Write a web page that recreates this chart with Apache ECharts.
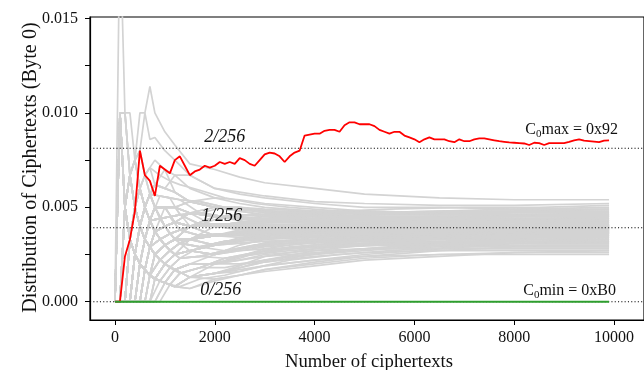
<!DOCTYPE html>
<html>
<head>
<meta charset="utf-8">
<style>
  html, body { margin: 0; padding: 0; background: #fff; }
  #main { width: 644px; height: 370px; }
</style>
<script src="https://cdn.jsdelivr.net/npm/echarts@6/dist/echarts.min.js"></script>
</head>
<body>
<div id="main"></div>
<script>
const FONT = "'Liberation Serif', 'Times New Roman', serif";

// sample points (number of ciphertexts) for the first group of grey byte values
const grayN = [0, 100, 200, 300, 400, 500, 600, 700, 800, 1000, 1200, 1500, 2000, 2500, 3000, 4000, 5000, 6500, 8000, 9900];

// one row per byte value, in units of 1e-4
const grayLines = [
  [0, 200, 100, 67, 75, 60, 50, 57, 50, 50, 42, 40, 40, 42, 41, 40, 41, 40, 40, 40],
  [0, 100, 100, 100, 75, 80, 67, 57, 62, 60, 58, 53, 55, 54, 52, 50, 48, 47, 46, 46],
  [0, 100, 50, 67, 75, 100, 100, 114, 100, 90, 83, 73, 70, 66, 63, 60, 57, 55, 54, 54],
  [0, 100, 100, 67, 75, 80, 100, 86, 87, 80, 75, 67, 60, 58, 56, 53, 52, 51, 51, 52],
  [0, 0, 50, 67, 75, 80, 67, 71, 62, 70, 67, 67, 60, 57, 55, 52, 50, 50, 49, 49],
  [0, 100, 50, 33, 50, 60, 67, 71, 75, 70, 58, 53, 50, 50, 48, 48, 47, 47, 48, 48],
  [0, 0, 0, 33, 50, 60, 50, 57, 62, 60, 67, 60, 55, 52, 50, 48, 46, 46, 47, 47],
  [0, 0, 50, 33, 25, 40, 50, 43, 50, 50, 50, 53, 50, 50, 47, 45, 45, 44, 45, 46],
  [0, 100, 50, 33, 25, 20, 33, 43, 37, 40, 42, 47, 45, 46, 45, 44, 44, 45, 45, 45],
  [0, 0, 0, 0, 25, 40, 33, 43, 50, 40, 42, 40, 45, 44, 44, 43, 43, 44, 44, 44],
  [0, 0, 50, 67, 50, 40, 33, 43, 37, 50, 42, 40, 40, 42, 43, 43, 42, 43, 43, 43],
  [0, 0, 0, 33, 25, 20, 33, 29, 37, 40, 42, 40, 40, 40, 41, 41, 41, 42, 42, 42],
  [0, 0, 0, 0, 0, 20, 33, 43, 37, 30, 33, 40, 35, 37, 38, 40, 40, 41, 41, 41],
  [0, 100, 50, 33, 25, 40, 33, 29, 25, 30, 33, 33, 35, 37, 38, 39, 40, 40, 40, 40],
  [0, 0, 50, 33, 50, 40, 33, 29, 37, 30, 33, 33, 35, 36, 37, 38, 39, 39, 40, 40],
  [0, 0, 0, 0, 25, 20, 17, 29, 25, 30, 33, 33, 30, 34, 36, 37, 38, 39, 40, 40],
  [0, 0, 0, 33, 25, 40, 33, 29, 37, 40, 33, 33, 30, 32, 34, 36, 37, 38, 39, 39],
  [0, 0, 0, 0, 0, 0, 17, 14, 25, 30, 33, 33, 30, 32, 35, 37, 38, 39, 39, 39],
  [0, 100, 50, 33, 25, 20, 17, 14, 25, 20, 25, 27, 30, 33, 35, 36, 37, 38, 39, 39],
  [0, 0, 50, 33, 25, 20, 17, 29, 25, 30, 25, 27, 25, 30, 33, 35, 37, 38, 38, 38],
  [0, 0, 0, 0, 0, 20, 17, 14, 12, 20, 25, 27, 25, 28, 31, 34, 36, 37, 38, 38],
  [0, 0, 0, 0, 0, 0, 0, 0, 12, 10, 17, 20, 20, 24, 28, 32, 34, 36, 37, 37],
  [0, 0, 0, 0, 25, 20, 17, 14, 12, 10, 17, 20, 20, 23, 27, 30, 33, 35, 37, 37],
  [0, 0, 0, 0, 0, 0, 0, 0, 0, 10, 8, 13, 15, 19, 24, 28, 31, 33, 35, 35],
  [0, 0, 0, 33, 25, 20, 17, 14, 12, 20, 17, 13, 15, 18, 22, 27, 30, 32, 34, 34],
  [0, 0, 0, 0, 0, 0, 0, 14, 12, 10, 8, 13, 15, 18, 21, 25, 28, 31, 33, 33],
  [0, 0, 0, 0, 25, 20, 17, 14, 12, 20, 17, 20, 20, 20, 22, 25, 27, 30, 32, 32],
  [0, 0, 0, 0, 0, 0, 17, 14, 12, 10, 17, 13, 15, 16, 19, 22, 25, 28, 31, 31],
  [0, 0, 0, 0, 0, 20, 17, 14, 12, 10, 8, 13, 12, 14, 17, 21, 24, 27, 29, 29],
  [0, 0, 0, 0, 0, 0, 0, 0, 0, 10, 8, 7, 12, 14, 16, 19, 22, 24, 26, 27],
  [0, 0, 0, 0, 0, 0, 0, 0, 12, 10, 8, 7, 11, 14, 17, 20, 23, 25, 25, 25],
  [0, 0, 50, 33, 50, 60, 50, 57, 50, 50, 50, 47, 45, 44, 43, 42, 42, 41, 42, 42],
  [0, 0, 0, 33, 50, 40, 50, 43, 37, 40, 42, 40, 40, 40, 40, 39, 39, 39, 40, 40],
  [0, 100, 50, 67, 50, 40, 50, 43, 50, 40, 42, 40, 40, 39, 38, 38, 38, 38, 38, 38],
  [0, 0, 0, 0, 25, 20, 33, 29, 37, 40, 33, 33, 35, 37, 38, 38, 37, 37, 37, 37],
  [0, 0, 50, 33, 25, 40, 33, 43, 37, 30, 33, 33, 35, 35, 36, 37, 37, 36, 36, 36],
  [0, 0, 0, 33, 25, 20, 33, 29, 25, 30, 25, 27, 30, 32, 34, 35, 35, 35, 35, 35],
  [0, 0, 0, 0, 0, 20, 17, 29, 25, 20, 25, 27, 25, 28, 31, 33, 34, 34, 34, 34],
  [0, 0, 50, 33, 25, 20, 33, 29, 25, 20, 25, 27, 25, 27, 29, 31, 32, 33, 33, 33],
  [0, 0, 0, 0, 0, 0, 17, 14, 12, 20, 17, 20, 20, 24, 27, 29, 30, 31, 32, 32],
  [0, 0, 0, 33, 50, 40, 33, 43, 50, 50, 42, 47, 45, 45, 44, 42, 41, 40, 39, 39],
  [0, 0, 50, 67, 50, 60, 50, 43, 50, 50, 50, 47, 40, 38, 40, 41, 41, 41, 41, 41],
  [0, 0, 0, 0, 25, 40, 50, 57, 50, 50, 50, 40, 40, 41, 42, 43, 43, 43, 43, 43],
  [0, 100, 50, 33, 50, 40, 33, 43, 37, 30, 25, 27, 30, 33, 36, 37, 38, 38, 38, 38],
  [0, 0, 0, 0, 0, 20, 33, 29, 37, 30, 25, 33, 35, 38, 39, 40, 41, 42, 43, 44],
  [0, 100, 50, 33, 25, 20, 33, 43, 50, 40, 33, 33, 40, 42, 44, 46, 47, 48, 49, 50],
  [0, 0, 50, 67, 75, 60, 50, 43, 37, 40, 42, 47, 50, 49, 47, 46, 45, 44, 43, 44],
  [0, 0, 0, 33, 25, 40, 50, 57, 62, 60, 58, 53, 50, 48, 46, 44, 43, 42, 41, 41],
  [0, 100, 100, 67, 50, 40, 33, 29, 25, 30, 33, 40, 40, 39, 38, 37, 36, 36, 37, 37],
  [0, 0, 0, 0, 25, 40, 33, 29, 25, 20, 25, 33, 35, 36, 38, 40, 41, 42, 42, 43],
  [0, 0, 50, 33, 25, 20, 17, 14, 25, 30, 33, 40, 45, 44, 43, 42, 40, 39, 38, 38],
  [0, 0, 0, 0, 0, 0, 17, 29, 37, 40, 42, 40, 35, 36, 37, 39, 40, 40, 41, 41],
  [0, 0, 0, 33, 50, 60, 67, 57, 50, 50, 50, 47, 45, 43, 41, 40, 40, 39, 39, 39],
  [0, 100, 50, 33, 25, 40, 50, 57, 50, 50, 50, 47, 45, 44, 45, 45, 46, 46, 46, 47],
  [0, 0, 0, 0, 25, 20, 17, 29, 25, 30, 33, 27, 30, 33, 34, 35, 36, 36, 36, 37],
  [0, 0, 50, 33, 25, 20, 17, 14, 12, 20, 25, 27, 30, 31, 32, 33, 34, 35, 35, 36],
  [0, 0, 0, 0, 0, 20, 17, 14, 25, 30, 33, 33, 35, 36, 36, 36, 36, 37, 36, 36],
  [0, 0, 0, 33, 50, 40, 33, 29, 25, 30, 25, 27, 25, 28, 30, 32, 33, 33, 34, 35],
  [0, 0, 50, 67, 50, 40, 50, 43, 37, 40, 42, 40, 40, 40, 40, 40, 40, 40, 40, 40],
  [0, 0, 0, 0, 25, 40, 50, 43, 50, 50, 42, 40, 40, 40, 39, 38, 38, 38, 39, 39],
  [0, 100, 50, 33, 50, 40, 50, 43, 37, 40, 42, 40, 40, 41, 42, 42, 41, 40, 40, 40],
  [0, 0, 0, 0, 0, 0, 0, 14, 25, 30, 33, 33, 35, 37, 39, 40, 40, 39, 39, 39],
  [0, 0, 50, 33, 25, 40, 33, 43, 50, 40, 42, 40, 40, 39, 38, 39, 39, 39, 38, 38],
  [0, 0, 0, 33, 25, 20, 33, 43, 37, 40, 42, 40, 35, 37, 38, 38, 38, 38, 37, 37],
  [0, 0, 0, 0, 25, 20, 33, 29, 25, 30, 33, 33, 35, 36, 37, 37, 36, 36, 36, 36],
  [0, 100, 50, 33, 25, 20, 17, 29, 25, 30, 33, 33, 35, 34, 34, 34, 35, 35, 35, 35],
  [0, 0, 0, 0, 0, 20, 17, 14, 12, 20, 25, 27, 30, 31, 32, 33, 34, 34, 34, 34],
  [0, 0, 50, 33, 50, 40, 50, 57, 50, 50, 50, 47, 45, 45, 44, 44, 44, 43, 43, 43],
  [0, 0, 0, 33, 25, 40, 50, 43, 50, 50, 50, 53, 50, 48, 46, 45, 44, 44, 44, 44],
  [0, 0, 0, 0, 0, 0, 17, 29, 25, 30, 33, 40, 40, 42, 43, 44, 45, 45, 45, 45],
  [0, 100, 50, 67, 50, 60, 50, 57, 62, 60, 58, 53, 50, 49, 48, 47, 47, 46, 46, 46],
  [0, 0, 0, 0, 25, 40, 33, 29, 37, 40, 42, 47, 50, 50, 49, 48, 48, 47, 47, 47],
  [0, 0, 50, 33, 25, 20, 33, 29, 37, 30, 33, 40, 40, 42, 44, 46, 47, 48, 48, 48],
  [0, 0, 0, 0, 0, 20, 17, 29, 25, 30, 33, 33, 35, 37, 39, 41, 42, 43, 43, 42],
  [0, 0, 0, 33, 25, 20, 17, 29, 25, 20, 25, 27, 30, 32, 33, 34, 35, 35, 35, 34],
  [0, 0, 0, 0, 0, 0, 0, 14, 12, 10, 17, 20, 25, 28, 30, 32, 32, 32, 32, 32],
  [0, 0, 0, 0, 25, 20, 17, 14, 12, 10, 8, 13, 20, 24, 27, 30, 31, 31, 31, 31],
  [0, 0, 0, 0, 0, 0, 17, 14, 12, 20, 25, 27, 25, 27, 28, 29, 30, 30, 30, 30],
  [0, 0, 0, 0, 0, 0, 0, 0, 12, 20, 17, 20, 20, 22, 25, 27, 28, 29, 29, 29],
  [0, 0, 50, 33, 25, 20, 17, 14, 12, 10, 17, 20, 20, 22, 24, 26, 28, 28, 28, 28],
  [0, 0, 0, 0, 0, 20, 17, 14, 12, 10, 8, 13, 15, 18, 21, 24, 26, 27, 27, 27],
  [0, 0, 0, 0, 0, 0, 0, 14, 12, 10, 17, 13, 15, 17, 19, 22, 24, 25, 26, 26],
  [0, 0, 0, 33, 25, 20, 17, 29, 37, 30, 33, 33, 35, 37, 37, 37, 38, 38, 38, 38],
  [0, 0, 50, 33, 50, 40, 33, 29, 25, 30, 33, 33, 35, 35, 35, 36, 36, 37, 37, 37],
  [0, 0, 0, 0, 0, 20, 33, 29, 37, 40, 42, 40, 40, 40, 39, 39, 38, 37, 37, 37],
  [0, 0, 0, 0, 25, 20, 33, 43, 37, 40, 33, 33, 35, 36, 37, 37, 37, 37, 36, 36],
  [0, 100, 50, 33, 25, 20, 17, 14, 12, 20, 25, 27, 30, 33, 35, 37, 39, 40, 41, 42],
  [0, 0, 0, 33, 50, 60, 50, 43, 50, 40, 42, 40, 40, 41, 41, 40, 39, 38, 37, 36],
  [0, 0, 0, 0, 0, 0, 17, 14, 25, 30, 33, 40, 40, 39, 39, 40, 40, 40, 41, 41],
  [0, 0, 0, 0, 25, 40, 50, 43, 37, 40, 42, 40, 45, 46, 46, 45, 44, 43, 42, 42],
];

// second group of grey byte values, read at a different set of sample points
const grayN2 = [0, 100, 200, 300, 400, 500, 600, 700, 900, 1100, 1300, 1700, 2200, 2800, 3500, 4500, 5500, 7000, 8500, 9900];

const grayLines2 = [
  [0, 100, 50, 67, 50, 60, 50, 57, 56, 55, 54, 47, 45, 43, 42, 41, 40, 40, 39, 39],
  [0, 0, 50, 33, 50, 40, 33, 43, 44, 45, 38, 41, 41, 41, 40, 40, 41, 41, 41, 40],
  [0, 0, 0, 33, 25, 20, 33, 29, 22, 27, 31, 29, 32, 34, 36, 37, 38, 39, 39, 40],
  [0, 0, 0, 0, 0, 20, 17, 14, 11, 18, 23, 24, 27, 30, 32, 34, 36, 37, 38, 38],
  [0, 100, 50, 33, 25, 20, 17, 29, 33, 36, 38, 41, 41, 40, 40, 41, 42, 43, 44, 44],
  [0, 0, 50, 67, 75, 60, 67, 71, 67, 64, 62, 59, 55, 52, 50, 48, 47, 46, 46, 45],
  [0, 0, 0, 33, 50, 60, 50, 43, 44, 36, 38, 35, 36, 37, 37, 37, 36, 36, 37, 37],
  [0, 0, 0, 0, 25, 20, 17, 29, 33, 27, 23, 29, 32, 33, 34, 35, 35, 36, 36, 36],
  [0, 0, 0, 0, 0, 0, 0, 0, 11, 9, 15, 18, 23, 26, 28, 30, 31, 32, 33, 34],
  [0, 0, 50, 33, 25, 40, 50, 57, 44, 45, 46, 47, 45, 46, 46, 47, 47, 48, 48, 49],
  [0, 0, 0, 33, 25, 20, 17, 14, 22, 27, 31, 35, 36, 38, 39, 40, 40, 40, 41, 41],
  [0, 100, 100, 67, 50, 40, 50, 43, 44, 45, 46, 41, 41, 42, 43, 43, 43, 43, 42, 42],
  [0, 0, 0, 0, 0, 20, 33, 43, 44, 45, 46, 47, 50, 49, 47, 46, 45, 44, 44, 43],
  [0, 0, 0, 0, 25, 40, 33, 29, 33, 36, 31, 29, 27, 29, 31, 32, 33, 33, 34, 35],
  [0, 0, 50, 33, 25, 20, 17, 14, 11, 9, 15, 18, 18, 21, 24, 27, 29, 30, 31, 31],
  [0, 0, 0, 0, 0, 0, 17, 14, 22, 27, 31, 35, 36, 37, 37, 38, 37, 37, 37, 38],
  [0, 0, 0, 33, 50, 40, 33, 43, 56, 55, 54, 53, 50, 48, 47, 45, 44, 43, 43, 42],
  [0, 100, 50, 33, 25, 20, 33, 29, 33, 36, 38, 41, 41, 40, 39, 38, 38, 37, 36, 36],
  [0, 0, 0, 0, 0, 0, 0, 14, 11, 18, 15, 18, 23, 25, 27, 29, 30, 31, 31, 32],
  [0, 0, 50, 67, 50, 40, 33, 29, 33, 27, 31, 35, 36, 36, 37, 38, 39, 40, 40, 40],
  [0, 0, 0, 0, 25, 40, 50, 43, 44, 45, 38, 41, 41, 42, 42, 42, 41, 40, 40, 39],
  [0, 0, 0, 33, 25, 40, 50, 57, 56, 55, 54, 53, 50, 48, 46, 45, 45, 45, 46, 46],
  [0, 0, 0, 0, 0, 20, 17, 29, 33, 36, 38, 35, 36, 35, 35, 35, 34, 34, 33, 33],
  [0, 100, 50, 33, 50, 40, 33, 29, 33, 27, 31, 29, 32, 33, 34, 35, 36, 36, 37, 37],
  [0, 0, 50, 33, 25, 20, 33, 43, 44, 36, 38, 35, 36, 37, 38, 39, 39, 38, 38, 38],
  [0, 0, 0, 0, 25, 20, 17, 14, 22, 18, 23, 24, 27, 29, 31, 32, 33, 34, 35, 35],
  [0, 0, 0, 0, 0, 0, 17, 29, 33, 36, 38, 41, 45, 44, 43, 42, 42, 42, 42, 43],
  [0, 0, 0, 33, 25, 20, 17, 14, 11, 18, 23, 24, 23, 25, 28, 30, 31, 32, 32, 33],
  [0, 0, 50, 33, 50, 60, 50, 57, 44, 45, 46, 41, 41, 40, 39, 38, 38, 39, 39, 39],
  [0, 0, 0, 0, 0, 0, 0, 0, 0, 9, 8, 12, 14, 18, 22, 25, 27, 29, 30, 30],
  [0, 100, 50, 67, 75, 60, 50, 43, 44, 45, 46, 47, 45, 46, 47, 48, 49, 50, 50, 51],
  [0, 0, 0, 33, 25, 40, 33, 43, 33, 36, 38, 41, 41, 41, 41, 41, 40, 40, 40, 40],
  [0, 0, 0, 0, 25, 20, 33, 29, 33, 36, 38, 35, 36, 37, 37, 36, 36, 35, 35, 35],
  [0, 0, 50, 33, 25, 20, 17, 29, 22, 27, 23, 24, 27, 30, 32, 33, 34, 35, 36, 36],
  [0, 0, 0, 0, 0, 20, 17, 14, 22, 27, 31, 35, 36, 38, 40, 41, 42, 43, 44, 45],
  [0, 0, 0, 33, 50, 40, 50, 43, 44, 36, 38, 41, 41, 40, 39, 39, 39, 39, 39, 38],
  [0, 100, 50, 33, 25, 20, 17, 14, 22, 27, 31, 29, 32, 34, 36, 37, 38, 38, 38, 38],
  [0, 0, 0, 0, 0, 0, 17, 14, 11, 9, 15, 18, 23, 26, 29, 31, 33, 34, 34, 34],
  [0, 0, 50, 67, 50, 40, 50, 57, 56, 55, 46, 47, 45, 44, 44, 44, 44, 45, 45, 45],
  [0, 0, 0, 0, 25, 40, 33, 43, 44, 45, 46, 41, 41, 42, 43, 44, 44, 44, 43, 43],
];

// C0max = 0x92 (red), units of 1e-4
const redN = [
  0, 100, 200, 300, 400, 500, 600, 700, 800, 900,
  1000, 1100, 1200, 1300, 1400, 1500, 1600, 1700, 1800, 1900,
  2000, 2100, 2200, 2300, 2400, 2500, 2600, 2700, 2800, 2900,
  3000, 3100, 3200, 3300, 3400, 3500, 3600, 3700, 3800, 3900,
  4000, 4100, 4200, 4300, 4400, 4500, 4600, 4700, 4800, 4900,
  5000, 5100, 5200, 5300, 5400, 5500, 5600, 5700, 5800, 5900,
  6000, 6100, 6200, 6300, 6400, 6500, 6600, 6700, 6800, 6900,
  7000, 7100, 7200, 7300, 7400, 7500, 7600, 7700, 7800, 7900,
  8000, 8100, 8200, 8300, 8400, 8500, 8600, 8700, 8800, 8900,
  9000, 9100, 9200, 9300, 9400, 9500, 9600, 9700, 9800, 9900,
];
const redValues = [
  0, 0, 24, 33, 48, 80, 67, 64, 56, 72,
  70, 68, 75, 77, 72, 67, 69, 70, 72, 71,
  72, 74, 73, 74, 73, 76, 75, 73, 72, 75,
  78, 79, 78.5, 77, 74, 77, 79, 80, 88, 88.5,
  89, 89, 90.5, 91, 91, 90, 93.5, 95, 95, 94,
  94, 94, 93, 91, 90, 89, 90, 90, 88, 87,
  86, 84.5, 86, 87, 86, 86, 86, 85, 84.5, 86,
  85, 85, 86, 86.5, 86.5, 86, 85.5, 85, 84.7, 84.4,
  84.2, 84, 83.8, 83, 84.2, 84, 83, 84, 84, 84,
  84, 84.6, 85.4, 86, 85.3, 85.1, 84.8, 84.5, 85.3, 85.5,
];

// C0min = 0xB0 (green) never appears
const greenN = [0, 9900];
const greenValues = [0, 0];

// dotted reference levels as drawn in the picture
const refLevels = [0.00813, 0.00392, 0];
const refLabels = ['2/256', '1/256', '0/256'];
const refLabelAt = [2200, 2140, 2120];

const yTicks = [0, 0.0025, 0.005, 0.0075, 0.01, 0.0125, 0.015];
const yLabelValues = [0, 0.005, 0.01, 0.015];
const xTicks = [0, 2000, 4000, 6000, 8000, 10000];

const X_MIN = -500;
const X_MAX = 10600;

const dom = document.getElementById('main');
const chart = echarts.init(dom, null, { renderer: 'canvas' });

function toPairs(xs, ys) {
  return xs.map((x, i) => [x, ys[i] * 1e-4]);
}

function grayLine(xs, row) {
  return {
    type: 'line',
    data: toPairs(xs, row),
    symbol: 'none',
    silent: true,
    z: 1,
    lineStyle: { color: '#d3d3d3', width: 1.7 },
  };
}

function buildSeries() {
  const series = [];
  grayLines.forEach((row) => series.push(grayLine(grayN, row)));
  grayLines2.forEach((row) => series.push(grayLine(grayN2, row)));

  refLevels.forEach((level) => {
    series.push({
      type: 'line',
      data: [[X_MIN, level], [X_MAX, level]],
      symbol: 'none',
      silent: true,
      z: 2,
      lineStyle: { color: '#000', width: 1.1, type: [1.1, 2.2] },
    });
  });

  series.push({
    type: 'line',
    data: toPairs(redN, redValues),
    symbol: 'none',
    z: 3,
    lineStyle: { color: '#ff0000', width: 1.8 },
  });

  series.push({
    type: 'line',
    data: toPairs(greenN, greenValues),
    symbol: 'none',
    z: 4,
    lineStyle: { color: '#2e9e2e', width: 2 },
  });

  return series;
}

chart.setOption({
  animation: false,
  textStyle: { fontFamily: FONT, color: '#000' },
  grid: {
    left: 90,
    top: 17,
    bottom: 50,
    right: -15,
    show: true,
    borderColor: '#000',
    borderWidth: 1.2,
    containLabel: false,
  },
  xAxis: {
    type: 'value',
    min: X_MIN,
    max: X_MAX,
    axisLine: { show: true, onZero: false, lineStyle: { color: '#000', width: 1.2 } },
    axisTick: { show: true, length: 5, customValues: xTicks, lineStyle: { color: '#000', width: 1 } },
    axisLabel: {
      customValues: xTicks,
      margin: 10,
      fontSize: 16,
      fontFamily: FONT,
      color: '#111',
      formatter: (v) => String(v),
    },
    splitLine: { show: false },
  },
  yAxis: {
    type: 'value',
    min: -0.00097,
    max: 0.01508,
    axisLine: { show: true, onZero: false, lineStyle: { color: '#000', width: 1.2 } },
    axisTick: { show: true, length: 5, customValues: yTicks, lineStyle: { color: '#000', width: 1 } },
    axisLabel: {
      customValues: yLabelValues,
      margin: 12,
      fontSize: 16,
      fontFamily: FONT,
      color: '#111',
      formatter: (v) => v.toFixed(3),
    },
    splitLine: { show: false },
  },
  series: buildSeries(),
});

// annotation texts placed through the chart's own coordinate conversion
function px(x, y) {
  return chart.convertToPixel({ gridIndex: 0 }, [x, y]);
}

const graphics = [];
refLevels.forEach((level, i) => {
  const p = px(refLabelAt[i], level);
  graphics.push({
    type: 'text',
    x: p[0],
    y: p[1] - 11,
    z: 100,
    silent: true,
    style: {
      text: refLabels[i],
      font: 'italic 18px ' + FONT,
      fill: '#111',
      align: 'center',
      verticalAlign: 'middle',
    },
  });
});

function subscriptLabel(x, y, rest) {
  return {
    type: 'text',
    x: x,
    y: y,
    z: 100,
    silent: true,
    style: {
      text: '{a|C}{s|0}{a|' + rest + '}',
      align: 'right',
      verticalAlign: 'middle',
      rich: {
        a: { fontSize: 16, fontFamily: FONT, fill: '#111' },
        s: { fontSize: 11, fontFamily: FONT, fill: '#111', padding: [9, 0, 0, 0] },
      },
    },
  };
}

graphics.push(subscriptLabel(618, 129.5, 'max = 0x92'));
graphics.push(subscriptLabel(616, 290.5, 'min = 0xB0'));

graphics.push({
  type: 'text',
  x: 369,
  y: 362,
  z: 100,
  silent: true,
  style: {
    text: 'Number of ciphertexts',
    fontSize: 18.7,
    fontFamily: FONT,
    fill: '#111',
    align: 'center',
    verticalAlign: 'middle',
  },
});

graphics.push({
  type: 'text',
  x: 30.5,
  y: 167.5,
  rotation: Math.PI / 2,
  z: 100,
  silent: true,
  style: {
    text: 'Distribution of Ciphertexts (Byte 0)',
    fontSize: 20.3,
    fontFamily: FONT,
    fill: '#111',
    align: 'center',
    verticalAlign: 'middle',
  },
});

chart.setOption({ graphic: graphics });
</script>
</body>
</html>
